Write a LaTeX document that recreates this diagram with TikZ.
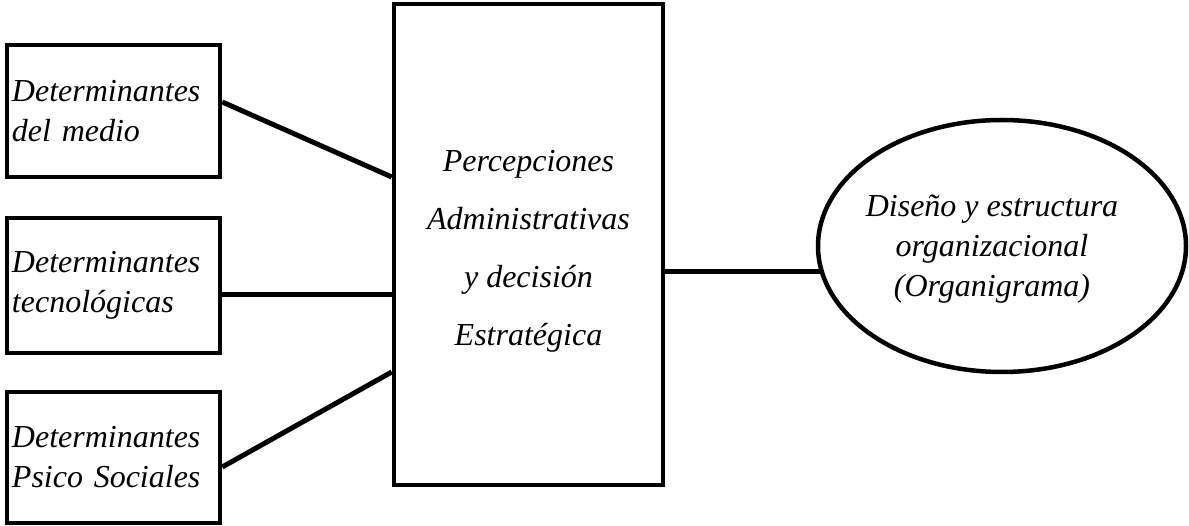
\documentclass[tikz,border=0pt]{standalone}
\usepackage{fontspec}
\setmainfont{Liberation Serif}
\usetikzlibrary{shapes.geometric}

\tikzset{
  factor/.style={draw, line width=4.5pt, rectangle, minimum width=213pt,
    inner xsep=5pt, inner ysep=0pt, text width=203pt, align=left,
    font=\fontsize{32}{40}\selectfont\itshape},
  core/.style={draw, line width=4.5pt, rectangle, minimum width=269pt,
    minimum height=481pt},
  coretext/.style={align=center, font=\fontsize{32}{58}\selectfont\itshape},
  outcome/.style={draw, line width=4.5pt, ellipse, minimum width=368pt,
    minimum height=252pt, inner sep=0pt},
  outcometext/.style={align=center, font=\fontsize{32}{40}\selectfont\itshape},
  link/.style={line width=5pt}
}

\begin{document}
\begin{tikzpicture}[x=1pt, y=-1pt]
  \useasboundingbox (0,0) rectangle (1189,526);

  % external determinants
  \node[factor, minimum height=132pt] (b1) at (113.5,111) {Determinantes\\del medio};
  \node[factor, minimum height=135pt] (b2) at (113.5,285.5) {Determinantes\\tecnológicas};
  \node[factor, minimum height=131pt] (b3) at (113.5,457.5) {Determinantes\\Psico Sociales};

  % central decision block and its caption
  \node[core] (p) at (528.5,244.5) {};
  \node[coretext] (ptext) at ([yshift=-7pt]p.center)
    {Percepciones\\Administrativas\\y decisión\\Estratégica};

  % resulting structure and its caption
  \node[outcome] (e) at (1002,246) {};
  \node[outcometext] (etext) at ([xshift=-10pt,yshift=-3pt]e.center)
    {Diseño y estructura\\organizacional\\(Organigrama)};

  % connectors
  \draw[link] ([yshift=9pt]b1.east) -- ([yshift=67.5pt]p.west);
  \draw[link] ([yshift=-9.5pt]b2.east) -- ([yshift=-9.5pt]b2.east -| p.west);
  \draw[link] ([yshift=-9.5pt]b3.east) -- ([yshift=-127.5pt]p.west);
  \draw[link] (e.188.9 -| p.east) -- (e.188.9);
\end{tikzpicture}
\end{document}
